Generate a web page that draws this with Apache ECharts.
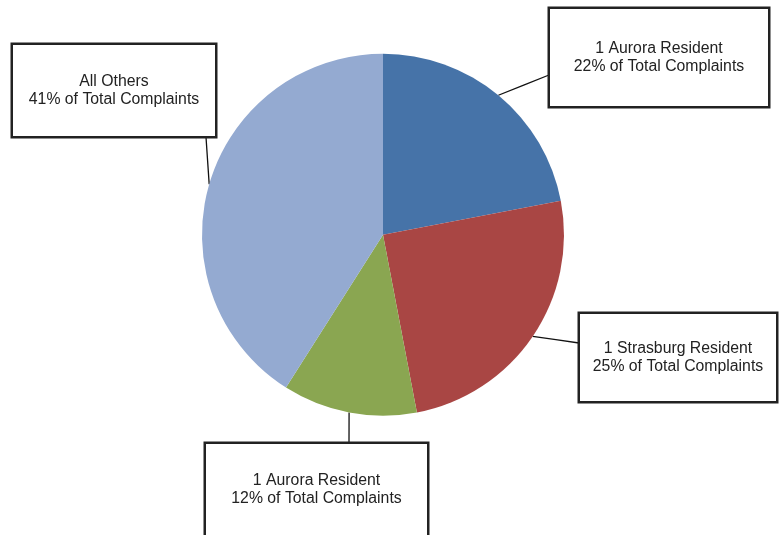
<!DOCTYPE html>
<html>
<head>
<meta charset="utf-8">
<script src="https://cdn.jsdelivr.net/npm/echarts@6/dist/echarts.min.js"></script>
<style>html,body{margin:0;padding:0;background:#fff;}#c{width:782px;height:535px;}</style>
</head>
<body>
<div id="c"></div>
<script>
const categories = ['1 Aurora Resident', '1 Strasburg Resident', '1 Aurora Resident ', 'All Others'];
const labelNames = ['1 Aurora Resident', '1 Strasburg Resident', '1 Aurora Resident', 'All Others'];
const values = [22, 25, 12, 41];
const colors = ['#4673A8', '#A94644', '#8AA651', '#94AAD1'];

// label box layout: [centerX, centerY, width, height, lineEndX, lineEndY]
const boxes = [
  [659, 57.5, 218, 97, 549, 75],
  [678, 357.5, 196, 87, 579, 343],
  [316.5, 490, 221, 92, 349, 443],
  [114, 90.5, 202, 91, 206, 137]
];

const chart = echarts.init(document.getElementById('c'), null, {renderer: 'canvas'});
chart.setOption({
  animation: false,
  backgroundColor: '#fff',
  series: [{
    type: 'pie',
    center: [383, 234.7],
    radius: 181,
    startAngle: 90,
    clockwise: true,
    silent: true,
    data: categories.map((c, i) => ({
      name: c,
      value: values[i],
      itemStyle: {color: colors[i], borderWidth: 0},
      label: {width: boxes[i][2], height: boxes[i][3]}
    })),
    label: {
      show: true,
      position: 'outside',
      formatter: p => labelNames[p.dataIndex] + '\n' + values[p.dataIndex] + '% of Total Complaints',
      fontFamily: '"Liberation Sans", Arial, sans-serif',
      fontSize: 15.8,
      lineHeight: 18,
      color: '#222',
      align: 'center',
      verticalAlign: 'middle',
      backgroundColor: '#fff',
      borderColor: '#222',
      borderWidth: 2.5,
      padding: 0
    },
    labelLine: {show: true, length: 20, length2: 0, lineStyle: {color: '#111', width: 1.3}},
    labelLayout: function (p) {
      const b = boxes[p.dataIndex];
      const a = p.labelLinePoints[0];
      return {
        x: b[0], y: b[1], align: 'center', verticalAlign: 'middle',
        labelLinePoints: [[a[0], a[1]], [(a[0] + b[4]) / 2, (a[1] + b[5]) / 2], [b[4], b[5]]]
      };
    }
  }]
});
</script>
</body>
</html>
